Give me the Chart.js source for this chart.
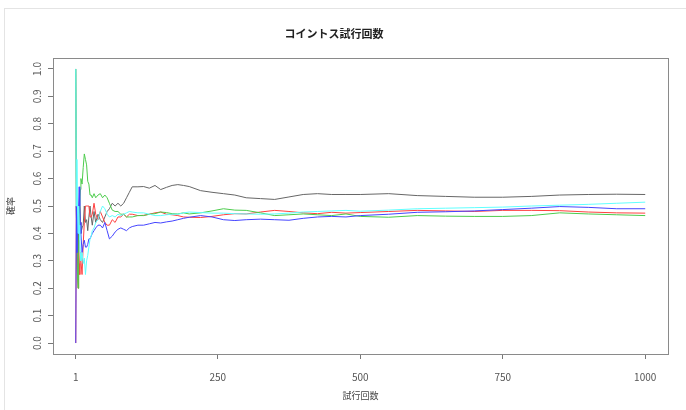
<!DOCTYPE html>
<html>
<head>
<meta charset="utf-8">
<script src="https://cdn.jsdelivr.net/npm/chart.js@4/dist/chart.umd.min.js"></script>
<style>
  body { margin: 0; background: #fff; }
  #wrap { position: relative; width: 686px; height: 410px; }
  #frame { position: absolute; left: 4px; top: 8px; right: 0; bottom: 0;
           border-top: 1px solid #e4e4e4; border-left: 1px solid #e4e4e4; }
  canvas { position: absolute; left: 0; top: 0; }
</style>
</head>
<body>
<div id="wrap">
  <div id="frame"></div>
  <canvas id="chart" width="686" height="410"></canvas>
</div>
<script>
const trials = [1, 2, 3, 4, 5, 6, 7, 8, 9, 10,
  12, 14, 16, 18, 20, 22, 24, 26, 28, 30,
  33, 36, 40, 44, 48, 52, 56, 60,
  65, 70, 75, 80, 85, 90, 95, 100,
  110, 120, 130, 140, 150, 160, 170, 180, 190, 200,
  220, 240, 260, 280, 300,
  325, 350, 375, 400, 425, 450, 475, 500,
  550, 600, 650, 700, 750, 800, 850, 900, 950, 1000];

// running share of heads, one list per run
const run1 = [1, 0.5, 0.33, 0.25, 0.4, 0.33, 0.43, 0.5, 0.44, 0.4,
  0.42, 0.43, 0.5, 0.44, 0.45, 0.41, 0.46, 0.5, 0.46, 0.43,
  0.48, 0.44, 0.47, 0.45, 0.44, 0.46, 0.48, 0.49,
  0.51, 0.5, 0.51, 0.5, 0.51, 0.53, 0.55, 0.57,
  0.57, 0.571, 0.565, 0.575, 0.56, 0.568, 0.575, 0.578, 0.575, 0.571,
  0.556, 0.55, 0.545, 0.54, 0.53,
  0.527, 0.524, 0.533, 0.542, 0.545, 0.542, 0.542, 0.542,
  0.545, 0.538, 0.535, 0.532, 0.532, 0.535, 0.54, 0.542, 0.543, 0.542];

const run2 = [0, 0.5, 0.33, 0.25, 0.2, 0.33, 0.29, 0.25, 0.33, 0.3,
  0.25, 0.36, 0.44, 0.5, 0.5, 0.5, 0.5, 0.46, 0.46, 0.47,
  0.51, 0.47, 0.45, 0.48, 0.46, 0.44, 0.43, 0.43,
  0.45, 0.44, 0.46, 0.46, 0.47, 0.46, 0.47, 0.47,
  0.465, 0.466, 0.47, 0.475, 0.478, 0.47, 0.468, 0.465, 0.46, 0.459,
  0.458, 0.462, 0.468, 0.472, 0.471,
  0.478, 0.484, 0.48, 0.475, 0.472, 0.477, 0.474, 0.476,
  0.48, 0.484, 0.482, 0.48, 0.484, 0.484, 0.483, 0.478, 0.475, 0.474];

const run3 = [1, 0.5, 0.33, 0.25, 0.2, 0.33, 0.43, 0.5, 0.56, 0.6,
  0.58, 0.64, 0.69, 0.67, 0.65, 0.59, 0.58, 0.54, 0.54, 0.53,
  0.545, 0.53, 0.54, 0.545, 0.53, 0.54, 0.53, 0.51,
  0.485, 0.48, 0.48, 0.47, 0.47, 0.46, 0.46, 0.46,
  0.465, 0.465, 0.47, 0.472, 0.478, 0.476, 0.472, 0.471, 0.475, 0.471,
  0.475, 0.482, 0.49, 0.485, 0.484,
  0.475, 0.465, 0.468, 0.471, 0.468, 0.465, 0.471, 0.462,
  0.459, 0.465, 0.463, 0.462, 0.462, 0.465, 0.475, 0.471, 0.468, 0.465];

const run4 = [0, 0.5, 0.33, 0.5, 0.4, 0.5, 0.57, 0.5, 0.44, 0.4,
  0.33, 0.36, 0.375, 0.35, 0.35, 0.36, 0.38, 0.38, 0.39, 0.4,
  0.41, 0.42, 0.43, 0.43, 0.42, 0.44, 0.41, 0.38,
  0.39, 0.405, 0.415, 0.42, 0.415, 0.41, 0.42, 0.425,
  0.43, 0.43, 0.435, 0.44, 0.438, 0.442, 0.445, 0.45, 0.455, 0.459,
  0.465, 0.46, 0.45, 0.447, 0.45,
  0.452, 0.45, 0.448, 0.455, 0.46, 0.462, 0.46, 0.465,
  0.47, 0.477, 0.479, 0.482, 0.487, 0.492, 0.498, 0.495, 0.49, 0.49];

const run5 = [1, 0.5, 0.67, 0.5, 0.4, 0.5, 0.43, 0.375, 0.33, 0.3,
  0.33, 0.29, 0.31, 0.25, 0.3, 0.32, 0.35, 0.38, 0.39, 0.41,
  0.42, 0.44, 0.45, 0.48, 0.5, 0.49, 0.47, 0.46,
  0.465, 0.46, 0.47, 0.465, 0.47, 0.475, 0.48, 0.478,
  0.475, 0.475, 0.47, 0.465, 0.465, 0.468, 0.47, 0.47, 0.475, 0.478,
  0.476, 0.474, 0.474, 0.472, 0.471,
  0.47, 0.471, 0.474, 0.478, 0.48, 0.482, 0.484, 0.481,
  0.485, 0.49, 0.492, 0.494, 0.496, 0.5, 0.503, 0.506, 0.51, 0.514];

const runs = [run1, run2, run3, run4, run5];
const runColors = ['#666666', '#ff4040', '#4ccc4c', '#4444ff', '#60ffff'];

const xTicks = [1, 250, 500, 750, 1000];
const yTicks = [0, 0.1, 0.2, 0.3, 0.4, 0.5, 0.6, 0.7, 0.8, 0.9, 1.0];

Chart.defaults.font.family = '"Noto Sans CJK JP", "DejaVu Sans", sans-serif';

// box round the plotting region, like R's box()
const boxPlugin = {
  id: 'box',
  afterDraw(chart) {
    const a = chart.chartArea;
    const ctx = chart.ctx;
    ctx.save();
    ctx.strokeStyle = '#8a8a8a';
    ctx.lineWidth = 1;
    ctx.strokeRect(a.left + 0.5, a.top + 0.5, a.right - a.left, a.bottom - a.top);
    ctx.restore();
  }
};

const datasets = runs.map((r, i) => ({
  data: trials.map((t, j) => ({ x: t, y: r[j] })),
  borderColor: runColors[i],
  borderWidth: 1,
  pointRadius: 0,
  tension: 0,
  order: runs.length - i
}));

new Chart(document.getElementById('chart'), {
  type: 'line',
  data: { datasets: datasets },
  options: {
    responsive: false,
    animation: false,
    layout: { padding: { left: 0, right: 18, top: 0, bottom: 0 } },
    plugins: {
      legend: { display: false },
      tooltip: { enabled: false },
      title: {
        display: true,
        text: 'コイントス試行回数',
        color: '#222',
        font: { size: 11, weight: 'bold' },
        padding: { top: 27, bottom: 17.8 }
      }
    },
    scales: {
      x: {
        type: 'linear',
        min: -38.96,
        max: 1039.96,
        afterBuildTicks: (s) => { s.ticks = xTicks.map(v => ({ value: v })); },
        afterFit: (s) => { s.height = 56; },
        ticks: { color: '#555', font: { size: 10 }, padding: 12, maxRotation: 0,
                 callback: (v) => String(v) },
        grid: { drawOnChartArea: false, tickLength: 5, color: '#777' },
        border: { color: '#8a8a8a' },
        title: { display: true, text: '試行回数', color: '#444', font: { size: 9 }, padding: { bottom: 9 } }
      },
      y: {
        min: -0.04,
        max: 1.04,
        afterBuildTicks: (s) => { s.ticks = yTicks.map(v => ({ value: v })); },
        afterFit: (s) => { s.width = 53; },
        ticks: {
          color: '#555',
          font: { size: 10 },
          minRotation: 90,
          maxRotation: 90,
          crossAlign: 'center',
          padding: 4,
          callback: (v) => v.toFixed(1)
        },
        grid: { drawOnChartArea: false, tickLength: 5, color: '#777' },
        border: { color: '#8a8a8a' },
        title: { display: true, text: '確率', color: '#444', font: { size: 9 }, padding: { top: 5 } }
      }
    }
  },
  plugins: [boxPlugin]
});
</script>
</body>
</html>
